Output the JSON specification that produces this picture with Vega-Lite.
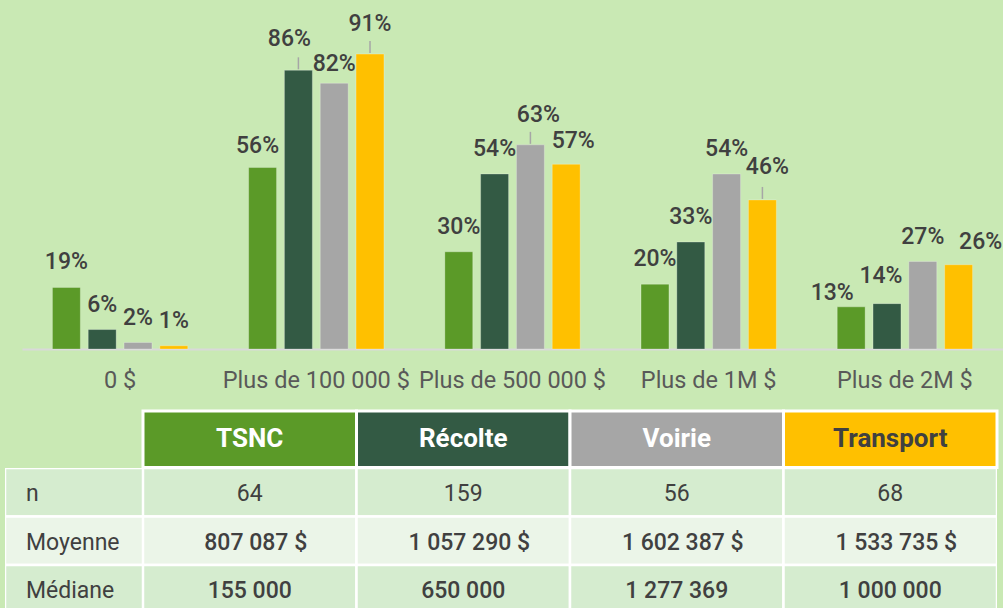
{
  "$schema": "https://vega.github.io/schema/vega-lite/v6.json",
  "background": "#C9E9B4",
  "padding": {"left": 5, "top": 0, "right": 0, "bottom": 0},
  "config": {"view": {"stroke": null}, "font": "Roboto"},
  "datasets": {
    "bars": [
      {"cat": "0 $", "serie": "TSNC", "pct": 0.19},
      {"cat": "0 $", "serie": "Récolte", "pct": 0.06},
      {"cat": "0 $", "serie": "Voirie", "pct": 0.02},
      {"cat": "0 $", "serie": "Transport", "pct": 0.01},
      {"cat": "Plus de 100 000 $", "serie": "TSNC", "pct": 0.56},
      {"cat": "Plus de 100 000 $", "serie": "Récolte", "pct": 0.86},
      {"cat": "Plus de 100 000 $", "serie": "Voirie", "pct": 0.82},
      {"cat": "Plus de 100 000 $", "serie": "Transport", "pct": 0.91},
      {"cat": "Plus de 500 000 $", "serie": "TSNC", "pct": 0.30},
      {"cat": "Plus de 500 000 $", "serie": "Récolte", "pct": 0.54},
      {"cat": "Plus de 500 000 $", "serie": "Voirie", "pct": 0.63},
      {"cat": "Plus de 500 000 $", "serie": "Transport", "pct": 0.57},
      {"cat": "Plus de 1M $", "serie": "TSNC", "pct": 0.20},
      {"cat": "Plus de 1M $", "serie": "Récolte", "pct": 0.33},
      {"cat": "Plus de 1M $", "serie": "Voirie", "pct": 0.54},
      {"cat": "Plus de 1M $", "serie": "Transport", "pct": 0.46},
      {"cat": "Plus de 2M $", "serie": "TSNC", "pct": 0.13},
      {"cat": "Plus de 2M $", "serie": "Récolte", "pct": 0.14},
      {"cat": "Plus de 2M $", "serie": "Voirie", "pct": 0.27},
      {"cat": "Plus de 2M $", "serie": "Transport", "pct": 0.26}
    ],
    "series": [
      {"serie": "TSNC"}, {"serie": "Récolte"}, {"serie": "Voirie"}, {"serie": "Transport"}
    ],
    "statrows": [
      {"stat": "n"}, {"stat": "Moyenne"}, {"stat": "Médiane"}
    ],
    "stats": [
      {"serie": "TSNC", "stat": "n", "val": "64"},
      {"serie": "TSNC", "stat": "Moyenne", "val": "807 087 $"},
      {"serie": "TSNC", "stat": "Médiane", "val": "155 000"},
      {"serie": "Récolte", "stat": "n", "val": "159"},
      {"serie": "Récolte", "stat": "Moyenne", "val": "1 057 290 $"},
      {"serie": "Récolte", "stat": "Médiane", "val": "650 000"},
      {"serie": "Voirie", "stat": "n", "val": "56"},
      {"serie": "Voirie", "stat": "Moyenne", "val": "1 602 387 $"},
      {"serie": "Voirie", "stat": "Médiane", "val": "1 277 369"},
      {"serie": "Transport", "stat": "n", "val": "68"},
      {"serie": "Transport", "stat": "Moyenne", "val": "1 533 735 $"},
      {"serie": "Transport", "stat": "Médiane", "val": "1 000 000"}
    ]
  },
  "spacing": 62,
  "bounds": "flush",
  "resolve": {"scale": {"color": "independent", "x": "independent", "y": "independent"}},
  "vconcat": [
    {
      "width": 998,
      "height": 349,
      "data": {"name": "bars"},
      "encoding": {
        "x": {
          "field": "cat", "type": "nominal", "title": null,
          "sort": ["0 $", "Plus de 100 000 $", "Plus de 500 000 $", "Plus de 1M $", "Plus de 2M $"],
          "scale": {"range": [17, 998], "paddingInner": 0.27, "paddingOuter": 0.135},
          "axis": {
            "domainColor": "#D9D9D9", "domainWidth": 2, "ticks": false, "tickSize": 0,
            "labelPadding": 19, "labelFontSize": 23.5, "labelColor": "#595959",
            "labelFont": "Roboto", "labelAngle": 0, "labelLimit": 300, "labelOverlap": false
          }
        },
        "xOffset": {
          "field": "serie", "type": "nominal",
          "sort": ["TSNC", "Récolte", "Voirie", "Transport"],
          "scale": {"paddingInner": 0.22, "paddingOuter": 0.11}
        },
        "y": {
          "field": "pct", "type": "quantitative",
          "scale": {"domain": [0, 1.077], "nice": false, "zero": true},
          "axis": null
        }
      },
      "layer": [
        {
          "mark": {"type": "bar", "stroke": "#ffffff", "strokeOpacity": 0.25, "strokeWidth": 1},
          "encoding": {
            "color": {
              "field": "serie", "type": "nominal", "legend": null,
              "scale": {"domain": ["TSNC", "Récolte", "Voirie", "Transport"], "range": ["#5B9A28", "#335A44", "#A6A6A6", "#FFC000"]}
            }
          }
        },
        {
          "transform": [{"filter": "indexof(['Plus de 100 000 $|Récolte','Plus de 100 000 $|Transport','Plus de 500 000 $|Voirie','Plus de 1M $|Transport'], datum.cat + '|' + datum.serie) >= 0"}],
          "mark": {"type": "rule", "color": "#A6A6A6", "strokeWidth": 1.5, "yOffset": -1, "y2Offset": -13},
          "encoding": {"y2": {"field": "pct"}}
        },
        {
          "transform": [{"filter": "indexof(['Plus de 100 000 $|TSNC','Plus de 100 000 $|Récolte','Plus de 100 000 $|Voirie','Plus de 100 000 $|Transport','Plus de 500 000 $|Voirie','Plus de 500 000 $|Transport','Plus de 1M $|Transport','Plus de 2M $|TSNC','Plus de 2M $|Récolte','Plus de 2M $|Transport'], datum.cat + '|' + datum.serie) < 0"}],
          "mark": {"type": "text", "baseline": "alphabetic", "dy": -18, "fontSize": 23, "fontWeight": 500, "color": "#404040", "font": "Roboto"},
          "encoding": {"text": {"field": "pct", "type": "quantitative", "format": ".0%"}}
        },
        {
          "transform": [{"filter": "datum.cat === 'Plus de 100 000 $' && datum.serie === 'TSNC'"}],
          "mark": {"type": "text", "baseline": "alphabetic", "dx": -5, "dy": -15, "fontSize": 23, "fontWeight": 500, "color": "#404040", "font": "Roboto"},
          "encoding": {"text": {"field": "pct", "type": "quantitative", "format": ".0%"}}
        },
        {
          "transform": [{"filter": "datum.cat === 'Plus de 100 000 $' && datum.serie === 'Récolte'"}],
          "mark": {"type": "text", "baseline": "alphabetic", "dx": -9, "dy": -24, "fontSize": 23, "fontWeight": 500, "color": "#404040", "font": "Roboto"},
          "encoding": {"text": {"field": "pct", "type": "quantitative", "format": ".0%"}}
        },
        {
          "transform": [{"filter": "datum.cat === 'Plus de 100 000 $' && datum.serie === 'Voirie'"}],
          "mark": {"type": "text", "baseline": "alphabetic", "dx": 0, "dy": -12, "fontSize": 23, "fontWeight": 500, "color": "#404040", "font": "Roboto"},
          "encoding": {"text": {"field": "pct", "type": "quantitative", "format": ".0%"}}
        },
        {
          "transform": [{"filter": "datum.cat === 'Plus de 100 000 $' && datum.serie === 'Transport'"}],
          "mark": {"type": "text", "baseline": "alphabetic", "dx": 0, "dy": -23, "fontSize": 23, "fontWeight": 500, "color": "#404040", "font": "Roboto"},
          "encoding": {"text": {"field": "pct", "type": "quantitative", "format": ".0%"}}
        },
        {
          "transform": [{"filter": "datum.cat === 'Plus de 500 000 $' && datum.serie === 'Voirie'"}],
          "mark": {"type": "text", "baseline": "alphabetic", "dx": 8, "dy": -23, "fontSize": 23, "fontWeight": 500, "color": "#404040", "font": "Roboto"},
          "encoding": {"text": {"field": "pct", "type": "quantitative", "format": ".0%"}}
        },
        {
          "transform": [{"filter": "datum.cat === 'Plus de 500 000 $' && datum.serie === 'Transport'"}],
          "mark": {"type": "text", "baseline": "alphabetic", "dx": 7, "dy": -16, "fontSize": 23, "fontWeight": 500, "color": "#404040", "font": "Roboto"},
          "encoding": {"text": {"field": "pct", "type": "quantitative", "format": ".0%"}}
        },
        {
          "transform": [{"filter": "datum.cat === 'Plus de 1M $' && datum.serie === 'Transport'"}],
          "mark": {"type": "text", "baseline": "alphabetic", "dx": 5, "dy": -26, "fontSize": 23, "fontWeight": 500, "color": "#404040", "font": "Roboto"},
          "encoding": {"text": {"field": "pct", "type": "quantitative", "format": ".0%"}}
        },
        {
          "transform": [{"filter": "datum.cat === 'Plus de 2M $' && datum.serie === 'TSNC'"}],
          "mark": {"type": "text", "baseline": "alphabetic", "dx": -19, "dy": -7, "fontSize": 23, "fontWeight": 500, "color": "#404040", "font": "Roboto"},
          "encoding": {"text": {"field": "pct", "type": "quantitative", "format": ".0%"}}
        },
        {
          "transform": [{"filter": "datum.cat === 'Plus de 2M $' && datum.serie === 'Récolte'"}],
          "mark": {"type": "text", "baseline": "alphabetic", "dx": -6, "dy": -21, "fontSize": 23, "fontWeight": 500, "color": "#404040", "font": "Roboto"},
          "encoding": {"text": {"field": "pct", "type": "quantitative", "format": ".0%"}}
        },
        {
          "transform": [{"filter": "datum.cat === 'Plus de 2M $' && datum.serie === 'Transport'"}],
          "mark": {"type": "text", "baseline": "alphabetic", "dx": 22, "dy": -16, "fontSize": 23, "fontWeight": 500, "color": "#404040", "font": "Roboto"},
          "encoding": {"text": {"field": "pct", "type": "quantitative", "format": ".0%"}}
        }
      ]
    },
    {
      "columns": 2,
      "spacing": 0,
      "bounds": "flush",
      "resolve": {"scale": {"color": "independent"}},
      "concat": [
        {
          "width": 138, "height": 56.5,
          "data": {"name": "series"},
          "mark": {"type": "text", "text": ""},
          "encoding": {}
        },
        {
          "width": 854, "height": 56.5,
          "data": {"name": "series"},
          "encoding": {
            "x": {"field": "serie", "type": "nominal", "sort": ["TSNC", "Récolte", "Voirie", "Transport"], "scale": {"paddingInner": 0, "paddingOuter": 0}, "axis": null}
          },
          "layer": [
            {
              "mark": {"type": "rect", "stroke": "white", "strokeWidth": 3},
              "encoding": {
                "color": {
                  "field": "serie", "type": "nominal", "legend": null,
                  "scale": {"domain": ["TSNC", "Récolte", "Voirie", "Transport"], "range": ["#5B9A28", "#335A44", "#A6A6A6", "#FFC000"]}
                }
              }
            },
            {
              "mark": {"type": "text", "fontSize": 26, "fontWeight": "bold", "font": "Roboto", "dy": 0},
              "encoding": {
                "text": {"field": "serie"},
                "color": {"condition": {"test": "datum.serie === 'Transport'", "value": "#404040"}, "value": "#ffffff"}
              }
            }
          ]
        },
        {
          "width": 138, "height": 140.5,
          "data": {"name": "statrows"},
          "encoding": {
            "y": {"field": "stat", "type": "nominal", "sort": ["n", "Moyenne", "Médiane"], "scale": {"range": [0, 145.5], "paddingInner": 0, "paddingOuter": 0}, "axis": null}
          },
          "layer": [
            {
              "mark": {"type": "rect", "stroke": "white", "strokeWidth": 2.5, "clip": true},
              "encoding": {
                "color": {
                  "field": "stat", "type": "nominal", "legend": null,
                  "scale": {"domain": ["n", "Moyenne", "Médiane"], "range": ["#D5ECCF", "#EBF5E8", "#D5ECCF"]}
                }
              }
            },
            {
              "mark": {"type": "text", "align": "left", "dx": -48, "dy": 2, "fontSize": 23, "color": "#404040", "font": "Roboto"},
              "encoding": {"text": {"field": "stat"}}
            }
          ]
        },
        {
          "width": 854, "height": 140.5,
          "data": {"name": "stats"},
          "encoding": {
            "x": {"field": "serie", "type": "nominal", "sort": ["TSNC", "Récolte", "Voirie", "Transport"], "scale": {"paddingInner": 0, "paddingOuter": 0}, "axis": null},
            "y": {"field": "stat", "type": "nominal", "sort": ["n", "Moyenne", "Médiane"], "scale": {"range": [0, 145.5], "paddingInner": 0, "paddingOuter": 0}, "axis": null}
          },
          "layer": [
            {
              "mark": {"type": "rect", "stroke": "white", "strokeWidth": 2.5, "clip": true},
              "encoding": {
                "color": {
                  "field": "stat", "type": "nominal", "legend": null,
                  "scale": {"domain": ["n", "Moyenne", "Médiane"], "range": ["#D5ECCF", "#EBF5E8", "#D5ECCF"]}
                }
              }
            },
            {
              "transform": [{"filter": "datum.stat === 'n'"}],
              "mark": {"type": "text", "fontSize": 23, "color": "#404040", "font": "Roboto", "dy": 2},
              "encoding": {"text": {"field": "val"}}
            },
            {
              "transform": [{"filter": "datum.stat === 'Moyenne'"}],
              "mark": {"type": "text", "fontSize": 23, "fontWeight": 500, "color": "#404040", "font": "Roboto", "dy": 2, "dx": 6},
              "encoding": {"text": {"field": "val"}}
            },
            {
              "transform": [{"filter": "datum.stat === 'Médiane'"}],
              "mark": {"type": "text", "fontSize": 23, "fontWeight": 500, "color": "#404040", "font": "Roboto", "dy": 2},
              "encoding": {"text": {"field": "val"}}
            }
          ]
        }
      ]
    }
  ]
}
